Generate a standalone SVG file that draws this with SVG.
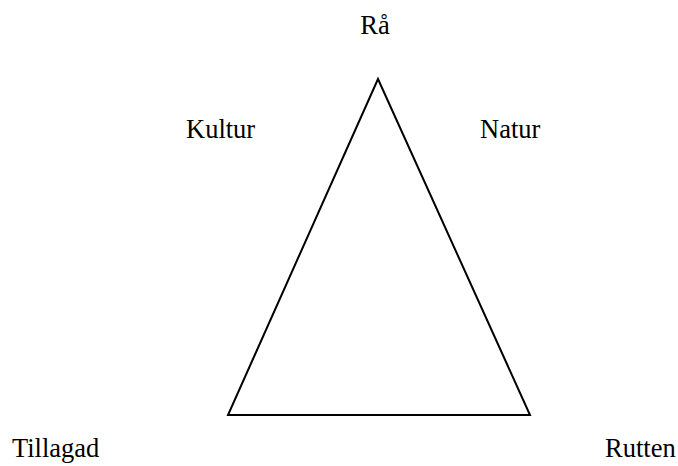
<svg xmlns="http://www.w3.org/2000/svg" width="678" height="466" viewBox="0 0 678 466">
<style>
text { font-family: "Liberation Serif", "Times New Roman", serif; font-size: 26.5px; fill: #000; }
.edge { fill: none; stroke: #000; stroke-width: 2; stroke-linejoin: miter; }
</style>
<rect width="678" height="466" fill="#fff"/>
<g id="connectors">
<polygon class="edge" points="378,79 228,415 530,415"/>
</g>
<g id="node-ra"><text x="375" y="34" text-anchor="middle">Rå</text></g>
<g id="node-kultur"><text x="186" y="138">Kultur</text></g>
<g id="node-natur"><text x="480" y="138">Natur</text></g>
<g id="node-tillagad"><text x="12" y="457">Tillagad</text></g>
<g id="node-rutten"><text x="605" y="457">Rutten</text></g>
</svg>
